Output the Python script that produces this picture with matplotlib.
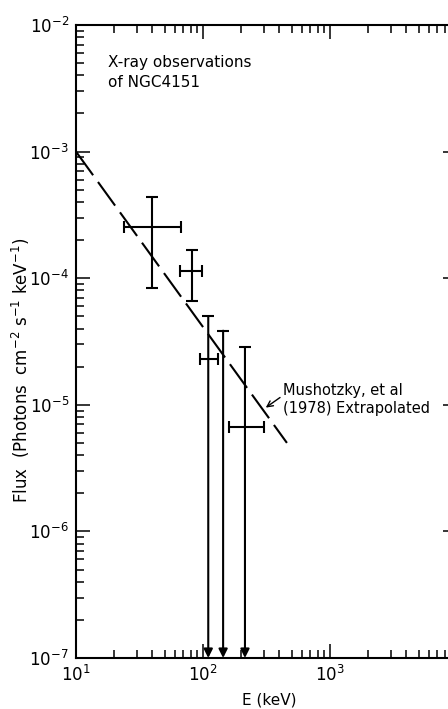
import matplotlib.pyplot as plt
import matplotlib.ticker as mticker
import numpy as np

# measured points (E in keV, flux in photons cm^-2 s^-1 keV^-1)
energy = [40, 81.5, 110, 144, 214]
energy_lo = [24, 66, 94.6, np.nan, 159]
energy_hi = [67, 98, 131, np.nan, 300]
flux = [2.55e-4, 1.15e-4, 2.3e-5, np.nan, 6.7e-6]
flux_hi = [4.4e-4, 1.66e-4, 5.0e-5, 3.85e-5, 2.84e-5]
flux_lo = [8.4e-5, 6.56e-5, np.nan, np.nan, np.nan]
upper_limit = [False, False, True, True, True]

# Mushotzky et al (1978) extrapolation, end points
line_energy = [10, 458]
line_flux = [1.0e-3, 5.0e-6]

fig = plt.figure(figsize=(4.48, 7.09), dpi=100)
ax = fig.add_axes([76 / 448, 51 / 709, 381 / 448, 633 / 709])
ax.set_xscale('log')
ax.set_yscale('log')
ax.set_xlim(10, 1e4)
ax.set_ylim(1e-7, 1e-2)

# power law line (long dashes)
ax.plot(line_energy, line_flux, color='k', lw=1.5, dashes=(14, 4),
        solid_capstyle='butt', dash_capstyle='butt')

ymin = ax.get_ylim()[0]
for i in range(len(energy)):
    e = energy[i]
    # horizontal energy bar
    if not np.isnan(energy_lo[i]):
        ax.errorbar([e], [flux[i]],
                    xerr=[[e - energy_lo[i]], [energy_hi[i] - e]],
                    fmt='none', ecolor='k', elinewidth=1.5, capsize=4,
                    capthick=1.5)
    if upper_limit[i]:
        # vertical line down to the axis with an arrow
        ax.annotate('', xy=(e, ymin), xytext=(e, flux_hi[i]),
                    arrowprops=dict(arrowstyle='-|>', color='k', lw=1.5,
                                    shrinkA=0, shrinkB=0, mutation_scale=13))
        ax.plot([e], [flux_hi[i]], marker='_', ms=8, mew=1.5, color='k')
    else:
        ax.errorbar([e], [flux[i]],
                    yerr=[[flux[i] - flux_lo[i]], [flux_hi[i] - flux[i]]],
                    fmt='none', ecolor='k', elinewidth=1.5, capsize=4,
                    capthick=1.5)

ax.text(0.083, 0.953, 'X-ray observations\nof NGC4151', transform=ax.transAxes,
        fontsize=11, va='top', ha='left', linespacing=1.4)

ax.annotate('Mushotzky, et al\n(1978) Extrapolated', xy=(312, 9.5e-6),
            xytext=(425, 1.1e-5), fontsize=10.5, va='center', ha='left',
            linespacing=1.3,
            arrowprops=dict(arrowstyle='->', color='k', lw=1, shrinkA=0,
                            shrinkB=0, relpos=(0, 0.62)))

ax.set_xlabel('E (keV)', fontsize=11)
ax.set_ylabel('Flux  (Photons  cm$^{-2}$ s$^{-1}$ keV$^{-1}$)', fontsize=12)
ax.xaxis.set_label_coords(0.507, -0.055)
ax.yaxis.set_label_coords(-0.115, 0.455)

ax.set_xticks([10, 100, 1000])
ax.xaxis.set_minor_formatter(mticker.NullFormatter())
ax.yaxis.set_minor_formatter(mticker.NullFormatter())
ax.xaxis.set_minor_locator(mticker.LogLocator(base=10, subs=np.arange(2, 10), numticks=20))
ax.yaxis.set_minor_locator(mticker.LogLocator(base=10, subs=np.arange(2, 10), numticks=20))
ax.tick_params(which='both', direction='in', top=True, right=True, width=1.1,
               labelsize=12)
ax.tick_params(which='major', length=10, pad=5)
ax.tick_params(which='minor', length=5.5)
for s in ax.spines.values():
    s.set_linewidth(1.5)

plt.savefig('out.png', dpi=100)
